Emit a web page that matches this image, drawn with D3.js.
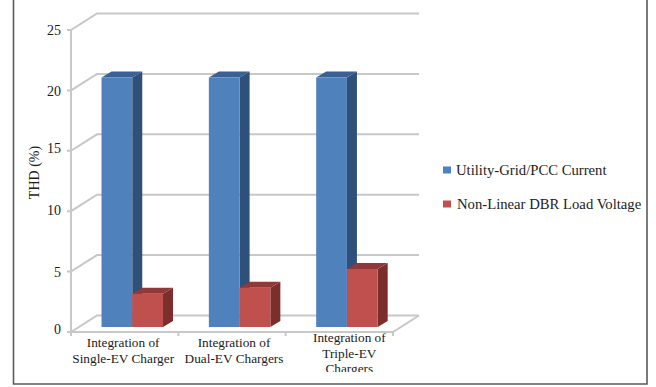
<!DOCTYPE html>
<html>
<head>
<meta charset="utf-8">
<script src="https://cdn.jsdelivr.net/npm/d3@7/dist/d3.min.js"></script>
<style>
  html, body { margin: 0; padding: 0; background: #fff; }
  text { font-family: "Liberation Serif", serif; fill: #1c1c1c; }
</style>
</head>
<body>
<svg id="chart" width="656" height="387"></svg>
<script>
const categories = ["Single", "Dual", "Triple"];
const categoryLabels = [
  ["Integration of", "Single-EV Charger"],
  ["Integration of", "Dual-EV Chargers"],
  ["Integration of", "Triple-EV", "Chargers"]
];
const seriesNames = ["Utility-Grid/PCC Current", "Non-Linear DBR Load Voltage"];
const gridCurrent = [20.65, 20.65, 20.65];
const loadVoltage = [2.75, 3.25, 4.8];
const yTicks = [0, 5, 10, 15, 20, 25];
const faces = [
  { front: "#4f81bd", top: "#3a6094", side: "#2f5078" },
  { front: "#c0504d", top: "#8f3a38", side: "#7b2e2c" }
];

const svg = d3.select("#chart");
const gridColor = "#c8c8c8";

// Oblique projection: the floor recedes up and to the right.
const wallDepth = { dx: 26, dy: -16.5 };
const barInset = { dx: 7.6, dy: -5 };
const barDepth = { dx: 10, dy: -6 };

const y = d3.scaleLinear().domain([0, 25]).range([332, 30]);
const x = d3.scaleBand().domain(categories).range([71, 393]);
const xBars = d3.scaleBand().domain(categories)
  .range([71 + barInset.dx, 393 + barInset.dx])
  .paddingInner(0.427).paddingOuter(0.2135);
const xSeries = d3.scaleBand().domain([0, 1]).range([0, xBars.bandwidth()]);

// Outer frame
svg.append("path")
  .attr("d", "M13.5,0V384H647V0")
  .attr("fill", "none").attr("stroke", "#5a5a5a").attr("stroke-width", 1.6);

// Back wall gridlines with their diagonals along the side wall
const grid = svg.append("g").attr("fill", "none").attr("stroke", gridColor).attr("stroke-width", 2);
yTicks.forEach(t => {
  const yy = y(t);
  grid.append("path").attr("d",
    `M67,${yy}H71L${71 + wallDepth.dx},${yy + wallDepth.dy}H${393 + wallDepth.dx}`);
});
// Left edge of the wall and front edge of the floor
grid.append("path").attr("d", `M71,${y(25)}V${y(0)}H393L${393 + wallDepth.dx},${y(0) + wallDepth.dy}`);
// Category ticks below the floor
[...categories.map(c => x(c)), x.range()[1]].forEach(px => {
  grid.append("path").attr("d", `M${px},${y(0)}v4`);
});

// Value labels, each nudged slightly off its tick
const tickNudge = [-2.8, 0.3, -1, -2.5, 1, 0.7];
svg.append("g").selectAll("text").data(yTicks).join("text")
  .attr("x", 61).attr("y", (d, i) => y(d) + tickNudge[i]).attr("dy", "0.34em")
  .attr("text-anchor", "end").attr("font-size", 14).text(d => d);

svg.append("text")
  .attr("transform", "translate(39,172.5) rotate(-90)")
  .attr("text-anchor", "middle").attr("font-size", 14).text("THD (%)");

// Draws one 3D column: side, top, then front face
function drawColumn(g, px, value, s) {
  const w = xSeries.bandwidth();
  const top = y(value) + barInset.dy;
  const base = y(0) + barInset.dy;
  const { dx, dy } = barDepth;
  g.append("path").attr("fill", faces[s].side)
    .attr("d", `M${px + w},${top}l${dx},${dy}V${base + dy}L${px + w},${base}Z`);
  g.append("path").attr("fill", faces[s].top)
    .attr("d", `M${px},${top}l${dx},${dy}h${w}l${-dx},${-dy}Z`);
  g.append("rect").attr("fill", faces[s].front)
    .attr("x", px).attr("y", top).attr("width", w).attr("height", base - top);
}

const bars = svg.append("g");
categories.forEach((c, i) => {
  drawColumn(bars, xBars(c) + xSeries(0), gridCurrent[i], 0);
  drawColumn(bars, xBars(c) + xSeries(1), loadVoltage[i], 1);
});

// Category labels; the last one overflows its box and gets cut off
svg.append("clipPath").attr("id", "label-clip")
  .append("rect").attr("x", 0).attr("y", 0).attr("width", 656).attr("height", 372);
const labels = svg.append("g").attr("clip-path", "url(#label-clip)");
const labelShift = [-1.5, 2, 10];
categoryLabels.forEach((lines, i) => {
  const cx = x(categories[i]) + x.bandwidth() / 2 + labelShift[i];
  const firstBaseline = lines.length > 2 ? 342 : 347;
  lines.forEach((line, j) => {
    labels.append("text")
      .attr("x", cx).attr("y", firstBaseline + j * 15.5)
      .attr("text-anchor", "middle").attr("font-size", 13.3).text(line);
  });
});

// Legend
const legendRows = [
  { box: 443, text: 456, cy: 170 },
  { box: 443, text: 457, cy: 204 }
];
seriesNames.forEach((name, i) => {
  const r = legendRows[i];
  svg.append("rect").attr("x", r.box).attr("y", r.cy - 3.5)
    .attr("width", 8).attr("height", 7).attr("fill", faces[i].front);
  svg.append("text").attr("x", r.text).attr("y", r.cy).attr("dy", "0.32em")
    .attr("font-size", 14.7).text(name);
});
</script>
</body>
</html>
